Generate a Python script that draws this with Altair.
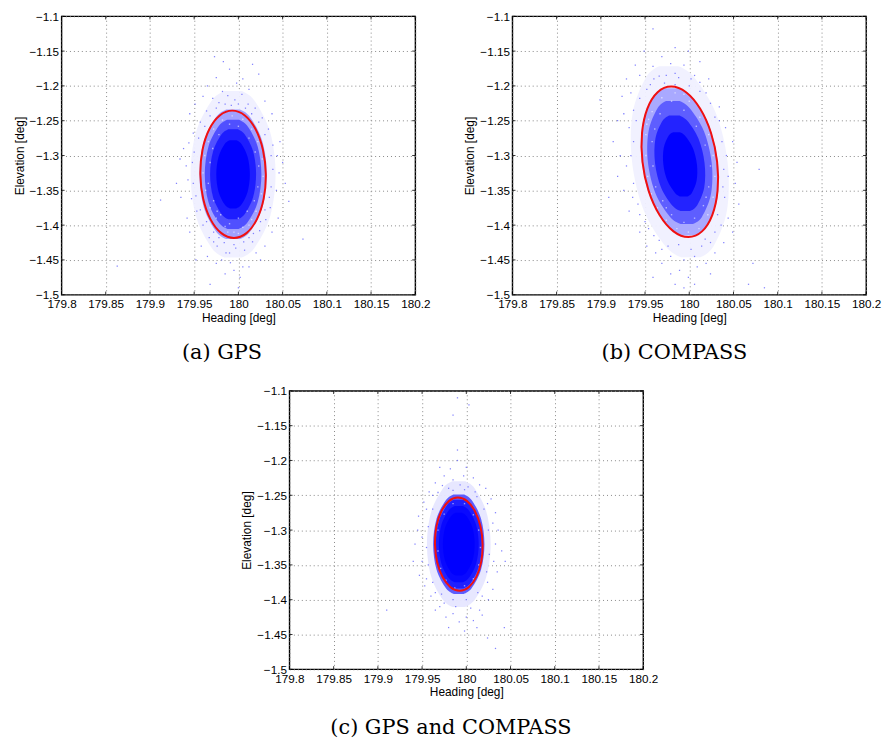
import altair as alt
import pandas as pd

x_ticks = [179.8, 179.85, 179.9, 179.95, 180, 180.05, 180.1, 180.15, 180.2]
y_ticks = [-1.5, -1.45, -1.4, -1.35, -1.3, -1.25, -1.2, -1.15, -1.1]
colors_a = ["#efefff", "#9c9cff", "#4c4cff", "#1a1aff", "#0000ff"]
colors_b = ["#f0f0ff", "#a4a4ff", "#5a5aff", "#2020ff", "#0000ff"]
colors_c = ["#e6e6ff", "#5454ff", "#1c1cff", "#0808ff", "#0000ff"]

ellipse_a = [(180.031,-1.327),(180.0278,-1.292),(180.0195,-1.2623),(180.0073,-1.2425),(179.993,-1.2355),(179.9789,-1.2425),
             (179.9671,-1.2623),(179.9594,-1.292),(179.957,-1.327),(179.9602,-1.362),(179.9685,-1.3917),(179.9807,-1.4115),
             (179.995,-1.4185),(180.0091,-1.4115),(180.0209,-1.3917),(180.0286,-1.362)]
ellipse_b = [(180.0315,-1.309),(180.0246,-1.2676),(180.0122,-1.2325),(179.9964,-1.209),(179.9796,-1.2008),(179.9642,-1.209),
             (179.9526,-1.2325),(179.9466,-1.2676),(179.9471,-1.309),(179.954,-1.3504),(179.9664,-1.3855),(179.9822,-1.409),
             (179.999,-1.4172),(180.0144,-1.409),(180.026,-1.3855),(180.032,-1.3504)]
ellipse_c = [(180.0184,-1.3202),(180.016,-1.2946),(180.0098,-1.2729),(180.0009,-1.2584),(179.9905,-1.2533),(179.9803,-1.2584),
             (179.9718,-1.2729),(179.9662,-1.2946),(179.9646,-1.3202),(179.967,-1.3458),(179.9732,-1.3675),(179.9821,-1.382),
             (179.9925,-1.3871),(180.0027,-1.382),(180.0112,-1.3675),(180.0168,-1.3458)]

bands_a = [
 [(-1.2074,179.9844,180.0036),(-1.2209,179.970,180.018),(-1.266,179.9522,180.0358),(-1.327,179.946,180.042),(-1.388,179.9522,180.0358),(-1.4331,179.970,180.018),(-1.4466,179.9844,180.0036)],
 [(-1.2339,179.9864,180.0016),(-1.2443,179.975,180.013),(-1.2795,179.9609,180.0271),(-1.327,179.956,180.032),(-1.3745,179.9609,180.0271),(-1.4097,179.975,180.013),(-1.4201,179.9864,180.0016)],
 [(-1.2486,179.9876,180.0004),(-1.2574,179.978,180.010),(-1.287,179.9662,180.0218),(-1.327,179.962,180.026),(-1.367,179.9662,180.0218),(-1.3966,179.978,180.010),(-1.4054,179.9876,180.0004)],
 [(-1.2623,179.9888,179.9992),(-1.2696,179.981,180.007),(-1.294,179.9714,180.0166),(-1.327,179.968,180.020),(-1.36,179.9714,180.0166),(-1.3844,179.981,180.007),(-1.3917,179.9888,179.9992)],
 [(-1.278,179.9902,179.9978),(-1.2835,179.9845,180.0035),(-1.302,179.9775,180.0105),(-1.327,179.975,180.013),(-1.352,179.9775,180.0105),(-1.3705,179.9845,180.0035),(-1.376,179.9902,179.9978)],
]
bands_b = [
 [(-1.1718,179.9662,179.9878),(-1.1872,179.9513,180.0053),(-1.239,179.936,180.03),(-1.309,179.9353,180.0433),(-1.379,179.9486,180.0426),(-1.4308,179.9733,180.0273),(-1.4462,179.9908,180.0124)],
 [(-1.2032,179.9712,179.9884),(-1.215,179.9593,180.0023),(-1.255,179.947,180.0218),(-1.309,179.9463,180.0323),(-1.363,179.9568,180.0316),(-1.403,179.9763,180.0193),(-1.4148,179.9902,180.0074)],
 [(-1.2218,179.9742,179.9886),(-1.2317,179.9643,180.0003),(-1.265,179.954,180.0166),(-1.31,179.9533,180.0253),(-1.355,179.962,180.0246),(-1.3883,179.9783,180.0143),(-1.3982,179.99,180.0044)],
 [(-1.2424,179.9775,179.9887),(-1.2501,179.9698,179.9978),(-1.276,179.9617,180.0105),(-1.311,179.9613,180.0173),(-1.346,179.9681,180.0169),(-1.3719,179.9808,180.0088),(-1.3796,179.9899,180.0011)],
 [(-1.2667,179.9818,179.9894),(-1.2719,179.9765,179.9955),(-1.2893,179.9711,180.0041),(-1.3128,179.9707,180.0087),(-1.3363,179.9753,180.0083),(-1.3537,179.9839,180.0029),(-1.3589,179.99,179.9976)],
]
bands_c = [
 [(-1.23,179.9843,179.9987),(-1.2402,179.9735,180.0095),(-1.2742,179.9602,180.0228),(-1.3202,179.9555,180.0275),(-1.3662,179.9602,180.0228),(-1.4002,179.9735,180.0095),(-1.4104,179.9843,179.9987)],
 [(-1.2487,179.9857,179.9973),(-1.2567,179.977,180.006),(-1.2837,179.9663,180.0167),(-1.3202,179.9625,180.0205),(-1.3567,179.9663,180.0167),(-1.3837,179.977,180.006),(-1.3917,179.9857,179.9973)],
 [(-1.2565,179.9863,179.9967),(-1.2636,179.9785,180.0045),(-1.2877,179.9689,180.0141),(-1.3202,179.9655,180.0175),(-1.3527,179.9689,180.0141),(-1.3768,179.9785,180.0045),(-1.3839,179.9863,179.9967)],
 [(-1.2653,179.987,179.996),(-1.2715,179.9802,180.0028),(-1.2922,179.9719,180.0111),(-1.3202,179.969,180.014),(-1.3482,179.9719,180.0111),(-1.3689,179.9802,180.0028),(-1.3751,179.987,179.996)],
 [(-1.2751,179.9879,179.9951),(-1.2802,179.9825,180.0005),(-1.2972,179.9758,180.0072),(-1.3202,179.9735,180.0095),(-1.3432,179.9758,180.0072),(-1.3602,179.9825,180.0005),(-1.3653,179.9879,179.9951)],
]

dots_a = [(179.863,-1.459),(180.073,-1.42),(179.912,-1.364),(180.057,-1.366),(179.973,-1.158),(179.983,-1.165),(180.016,-1.169),(179.99,-1.176),
 (180.023,-1.183),(179.965,-1.2),(180.005,-1.19),(179.998,-1.196),(179.975,-1.188),(180.012,-1.205),(179.982,-1.208),(180.03,-1.222),(179.951,-1.226),
 (179.96,-1.215),(180.038,-1.24),(179.945,-1.24),(179.938,-1.29),(179.934,-1.305),(180.047,-1.28),(180.05,-1.31),(180.053,-1.34),(179.93,-1.34),
 (179.935,-1.36),(179.942,-1.39),(180.045,-1.39),(180.038,-1.41),(179.945,-1.41),(179.958,-1.43),(180.03,-1.43),(179.965,-1.445),(180.02,-1.44),
 (179.975,-1.455),(180.005,-1.46),(179.985,-1.47),(179.995,-1.465),(180.002,-1.475),(179.968,-1.485),(180.0,-1.49),(180.012,-1.46),(179.952,-1.45),(180.025,-1.45),
 (179.971,-1.218),(179.978,-1.224),(179.988,-1.214),(179.996,-1.22),(180.004,-1.212),(180.011,-1.226),(180.019,-1.232),(179.964,-1.236),(179.957,-1.252),
 (180.027,-1.246),(180.034,-1.262),(179.949,-1.268),(179.944,-1.282),(180.039,-1.285),(180.044,-1.3),(179.941,-1.315),(179.943,-1.335),(180.046,-1.325),
 (180.043,-1.35),(179.947,-1.362),(179.953,-1.38),(180.036,-1.375),(180.031,-1.392),(179.96,-1.4),(180.024,-1.408),(179.967,-1.418),(180.016,-1.424),
 (179.976,-1.43),(180.007,-1.436),(179.986,-1.44),(179.997,-1.433),(179.972,-1.424),(180.012,-1.418),(179.981,-1.45),(179.991,-1.454),
 (179.975,-1.232),(179.985,-1.226),(179.992,-1.228),(180.0,-1.226),(180.008,-1.232),(180.015,-1.24),(180.023,-1.252),(180.03,-1.27),(179.968,-1.243),(179.962,-1.258),
 (179.955,-1.275),(179.95,-1.295),(179.948,-1.31),(179.949,-1.34),(179.952,-1.358),(179.957,-1.378),(179.964,-1.395),(179.972,-1.41),(180.037,-1.3),(180.039,-1.32),
 (180.037,-1.345),(180.035,-1.36),(180.03,-1.378),(180.025,-1.395),(180.017,-1.412),(180.006,-1.424),(179.995,-1.428),(179.984,-1.425),(179.978,-1.418),(179.99,-1.44)]
dots_b = [(180.067,-1.485),(180.085,-1.49),(180.072,-1.455),(179.899,-1.22),(179.909,-1.36),(180.079,-1.32),(179.959,-1.118),(179.984,-1.145),(179.949,-1.15),
 (179.999,-1.15),(179.969,-1.158),(180.012,-1.165),(179.939,-1.17),(179.979,-1.168),(179.959,-1.172),(179.994,-1.17),(179.929,-1.19),(179.944,-1.185),(180.006,-1.185),
 (180.022,-1.19),(179.984,-1.182),(179.966,-1.186),(179.924,-1.215),(179.934,-1.21),(180.019,-1.21),(180.034,-1.23),(179.919,-1.25),(179.926,-1.24),(180.041,-1.26),
 (179.914,-1.28),(179.922,-1.3),(180.049,-1.28),(180.054,-1.31),(180.052,-1.34),(179.919,-1.33),(179.926,-1.35),(180.056,-1.37),(179.932,-1.38),(180.044,-1.39),
 (179.944,-1.41),(180.049,-1.41),(180.039,-1.425),(179.952,-1.43),(180.029,-1.44),(179.962,-1.44),(180.019,-1.455),(179.969,-1.455),(180.009,-1.46),(179.979,-1.47),
 (179.999,-1.475),(179.989,-1.465),(179.994,-1.49),(180.006,-1.485),(179.984,-1.485),(179.959,-1.475),(180.024,-1.47),
 (179.956,-1.198),(179.972,-1.196),(179.984,-1.198),(180.0,-1.2),(180.012,-1.208),(180.024,-1.225),(179.944,-1.218),(179.937,-1.235),(179.932,-1.26),
 (180.034,-1.25),(180.042,-1.3),(180.044,-1.33),(180.04,-1.36),(179.929,-1.315),(179.936,-1.36),(179.944,-1.385),(179.954,-1.405),(180.036,-1.4),(180.024,-1.425),
 (179.966,-1.422),(179.976,-1.43),(179.988,-1.428),(180.002,-1.435),(180.014,-1.43),(179.979,-1.445),(179.994,-1.45),(179.969,-1.435),(180.006,-1.445),
 (179.952,-1.205),(179.96,-1.19),(179.974,-1.185),(179.988,-1.188),(180.002,-1.19),(180.012,-1.195),(180.029,-1.245),(180.037,-1.28),(180.039,-1.32),(180.038,-1.345),
 (179.94,-1.25),(179.937,-1.28),(179.934,-1.3),(179.937,-1.34),(179.942,-1.37),(179.95,-1.395),(179.96,-1.415),(180.032,-1.385),(180.029,-1.41),(180.018,-1.42)]
dots_c = [(179.91,-1.415),(180.033,-1.47),(180.024,-1.455),(180.043,-1.44),(179.99,-1.11),(179.985,-1.135),(180.003,-1.12),(179.99,-1.185),(179.99,-1.2),
 (179.97,-1.21),(179.982,-1.212),(180.0,-1.21),(179.997,-1.222),(180.008,-1.225),(179.975,-1.222),(179.965,-1.232),(179.985,-1.228),(180.015,-1.235),(180.022,-1.24),
 (179.958,-1.245),(180.028,-1.255),(179.952,-1.26),(180.033,-1.275),(179.946,-1.28),(179.945,-1.3),(180.036,-1.3),(180.04,-1.33),(179.942,-1.32),(179.94,-1.345),
 (180.044,-1.345),(180.035,-1.36),(179.947,-1.365),(180.03,-1.385),(179.953,-1.38),(180.025,-1.4),(179.96,-1.395),(180.015,-1.415),(179.97,-1.41),(180.0,-1.425),
 (179.985,-1.42),(179.992,-1.432),(180.008,-1.43),(179.977,-1.425),(179.98,-1.44),(179.998,-1.445),(180.012,-1.44),(179.965,-1.415),(180.018,-1.422),
 (179.973,-1.236),(179.98,-1.24),(179.993,-1.235),(180.002,-1.238),(180.01,-1.245),(179.962,-1.25),(179.955,-1.27),(180.024,-1.262),(180.03,-1.29),(179.95,-1.31),
 (180.033,-1.32),(180.031,-1.345),(179.95,-1.345),(179.955,-1.37),(180.024,-1.375),(180.018,-1.395),(179.965,-1.39),(179.975,-1.405),(179.988,-1.41),(180.005,-1.412),
 (179.968,-1.246),(179.985,-1.243),(179.998,-1.242),(180.012,-1.252),(180.02,-1.27),(180.025,-1.3),(180.026,-1.335),(180.023,-1.36),(180.013,-1.39),(180.0,-1.4),
 (179.985,-1.4),(179.972,-1.392),(179.962,-1.375),(179.957,-1.35),(179.955,-1.325),(179.957,-1.295),(179.962,-1.27)]

grain_a = [(179.962,-1.3),(179.96,-1.325),(179.963,-1.35),(179.968,-1.375),(179.975,-1.39),(179.985,-1.402),(179.995,-1.41),(180.005,-1.403),(180.015,-1.392),(180.02,-1.38),
 (180.026,-1.355),(180.028,-1.33),(180.027,-1.305),(180.022,-1.28),(180.015,-1.262),(180.005,-1.248),(179.993,-1.243),(179.982,-1.249),(179.972,-1.262),(179.966,-1.28),
 (179.968,-1.31),(179.966,-1.34),(179.972,-1.365),(179.98,-1.385),(179.99,-1.398),(180.0,-1.39),(180.01,-1.38),(180.018,-1.365),(180.022,-1.345),(180.023,-1.315),
 (180.019,-1.295),(180.012,-1.275),(180.0,-1.258),(179.99,-1.255),(179.978,-1.27),(179.971,-1.29),(179.988,-1.41),(180.0,-1.412),(179.976,-1.38),(180.012,-1.4)]
grain_b = [(179.951,-1.27),(179.951,-1.3),(179.953,-1.33),(179.957,-1.355),(179.964,-1.375),(179.974,-1.393),(179.986,-1.405),(179.999,-1.41),(180.011,-1.405),(180.021,-1.385),
 (180.027,-1.36),(180.029,-1.33),(180.027,-1.3),(180.022,-1.27),(180.012,-1.245),(180.0,-1.222),(179.984,-1.21),(179.969,-1.217),(179.958,-1.237),(179.952,-1.255),
 (179.958,-1.28),(179.959,-1.315),(179.962,-1.345),(179.97,-1.365),(179.98,-1.385),(179.994,-1.396),(180.006,-1.39),(180.016,-1.372),(180.022,-1.345),(180.024,-1.315),
 (180.018,-1.285),(180.008,-1.258),(179.994,-1.235),(179.98,-1.222),(179.967,-1.24),(179.961,-1.262),(179.954,-1.248),(179.994,-1.212),(179.974,-1.375),(180.019,-1.36)]
grain_c = [(179.968,-1.3),(179.968,-1.33),(179.971,-1.355),(179.977,-1.372),(179.987,-1.383),(179.998,-1.38),(180.008,-1.37),(180.014,-1.35),(180.016,-1.325),(180.014,-1.3),
 (180.008,-1.278),(179.998,-1.262),(179.985,-1.262),(179.975,-1.277)]


def X(field):
    return alt.X(field, scale=alt.Scale(domain=[179.8, 180.2], nice=False, zero=False),
                 axis=alt.Axis(values=x_ticks, format=".5~g", title="Heading [deg]", tickSize=0, domain=False,
                               grid=True, gridColor="#888888", gridDash=[1, 3], gridWidth=1, gridOpacity=1,
                               labelFont="Liberation Sans", labelFontSize=11.8, labelColor="#000", labelPadding=4,
                               labelFlush=False, labelOverlap=False, titleFont="Liberation Sans", titleFontSize=12,
                               titleFontWeight="normal", titleColor="#000", titlePadding=2))


def Y(field):
    return alt.Y(field, scale=alt.Scale(domain=[-1.5, -1.1], nice=False, zero=False),
                 axis=alt.Axis(values=y_ticks, format=".3~g", title="Elevation [deg]", tickSize=0, domain=False,
                               grid=True, gridColor="#888888", gridDash=[1, 3], gridWidth=1, gridOpacity=1,
                               labelFont="Liberation Sans", labelFontSize=11.8, labelColor="#000", labelPadding=3,
                               labelOverlap=False, titleFont="Liberation Sans", titleFontSize=12,
                               titleFontWeight="normal", titleColor="#000", titlePadding=3))


def panel(ellipse, bands, dots, grain, colors, caption, dx):
    layers = []
    for rows, color in zip(bands, colors):
        df = pd.DataFrame(rows, columns=["y", "x", "x2"])
        layers.append(alt.Chart(df).mark_area(orient="horizontal", interpolate="cardinal", color=color, opacity=0.95)
                      .encode(x=X("x:Q"), x2="x2:Q", y=Y("y:Q")))
    gdf = pd.DataFrame(grain, columns=["x", "y"])
    layers.append(alt.Chart(gdf).mark_square(size=2, color="#ffffff", opacity=0.55).encode(x=X("x:Q"), y=Y("y:Q")))
    ddf = pd.DataFrame(dots, columns=["x", "y"])
    layers.append(alt.Chart(ddf).mark_square(size=1.6, color="#5a5aff", opacity=0.75).encode(x=X("x:Q"), y=Y("y:Q")))
    edf = pd.DataFrame(ellipse, columns=["x", "y"])
    edf["i"] = range(len(edf))
    layers.append(alt.Chart(edf).mark_line(color="#f01010", strokeWidth=2, interpolate="cardinal-closed")
                  .encode(x=X("x:Q"), y=Y("y:Q"), order="i:Q"))
    tx = pd.DataFrame({"x": x_ticks, "lo": -1.5, "lo2": -1.4955, "hi": -1.1, "hi2": -1.1045})
    ty = pd.DataFrame({"y": y_ticks, "lo": 179.8, "lo2": 179.8035, "hi": 180.2, "hi2": 180.1965})
    tick = alt.Chart(tx).mark_rule(color="#000", strokeWidth=0.8)
    layers.append(tick.encode(x=X("x:Q"), y=Y("lo:Q"), y2="lo2:Q"))
    layers.append(tick.encode(x=X("x:Q"), y=Y("hi:Q"), y2="hi2:Q"))
    tick2 = alt.Chart(ty).mark_rule(color="#000", strokeWidth=0.8)
    layers.append(tick2.encode(y=Y("y:Q"), x=X("lo:Q"), x2="lo2:Q"))
    layers.append(tick2.encode(y=Y("y:Q"), x=X("hi:Q"), x2="hi2:Q"))
    return alt.layer(*layers).properties(
        width=357, height=281,
        title=alt.TitleParams(caption, orient="bottom", anchor="middle", dx=dx, offset=19, font="DejaVu Serif",
                              fontSize=21, fontWeight="normal", color="#000"))


a = panel(ellipse_a, bands_a, dots_a, grain_a, colors_a, "(a) GPS", -16.5)
b = panel(ellipse_b, bands_b, dots_b, grain_b, colors_b, "(b) COMPASS", -15)
c = panel(ellipse_c, bands_c, dots_c, grain_c, colors_c, "(c) GPS and COMPASS", -15.5)
spacer = alt.Chart(pd.DataFrame({"x": [0]})).mark_point(opacity=0).encode(x=alt.value(0)).properties(
    width=179, height=10, view=alt.ViewBackground(stroke="transparent"))

chart = alt.vconcat(alt.hconcat(a, b, spacing=32), alt.hconcat(spacer, c, spacing=0), spacing=21).properties(
    padding={"left": 4, "top": -1, "right": 0, "bottom": 2}
).configure_view(stroke="#000", strokeWidth=1.4).configure_concat(spacing=0)

chart.save("out.html", embed_options={"renderer": "svg", "actions": False})
